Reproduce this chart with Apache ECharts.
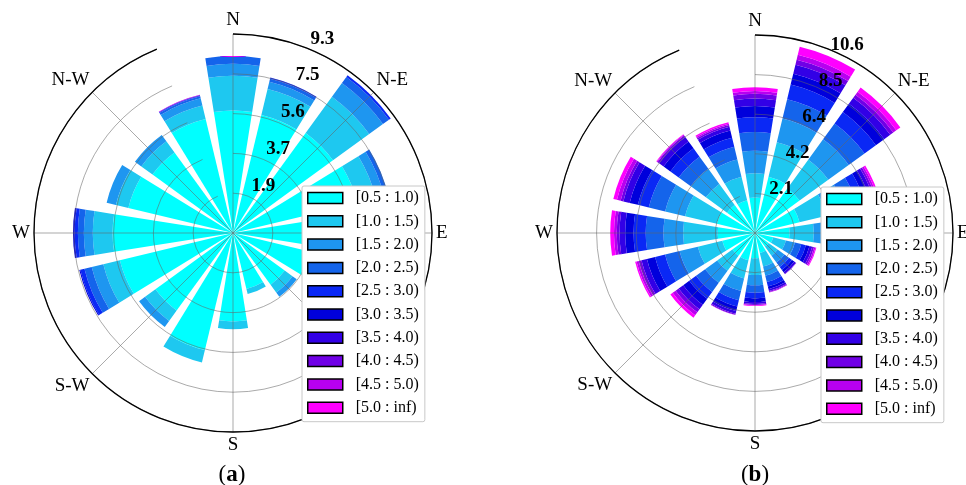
<!DOCTYPE html>
<html><head><meta charset="utf-8">
<script src="https://cdn.jsdelivr.net/npm/echarts/dist/echarts.min.js"></script>
<style>html,body{margin:0;padding:0;background:#fff}#c{width:966px;height:485px}</style>
</head><body><div id="c"></div>
<script>
// ---- categories ----
const directions = ['N','NNE','N-E','ENE','E','ESE','S-E','SSE','S','SSW','S-W','WSW','W','WNW','N-W','NNW'];
const binLabels = ['[0.5 : 1.0)','[1.0 : 1.5)','[1.5 : 2.0)','[2.0 : 2.5)','[2.5 : 3.0)','[3.0 : 3.5)','[3.5 : 4.0)','[4.0 : 4.5)','[4.5 : 5.0)','[5.0 : inf)'];
const binColors = ['#00FFFF','#1EC8F0','#1E96F0','#1464EB','#0A28F5','#0000DC','#3200E6','#7000E6','#B800F0','#FF00FF'];

// ---- radius ticks ----
const radiusMaxA = 9.34, radiusStepA = 1.868;   // labels 1.9 3.7 5.6 7.5 9.3
const radiusMaxB = 10.6, radiusStepB = 2.12;    // labels 2.1 4.2 6.4 8.5 10.6

// ---- (a) frequencies per speed bin, order N .. NNW ----
const a_05_10 = [5.75,5.70,5.80,6.00,5.00,4.20,3.00,2.70,4.15,5.65,4.50,5.46,5.65,5.05,4.67,5.50];
const a_10_15 = [1.63,1.25,2.10,0.90,0.80,0.60,0.45,0.25,0.37,0.60,0.60,0.80,0.93,0.60,0.65,0.65];
const a_15_20 = [0.56,0.35,0.80,0.40,0.40,0.20,0.25,0.00,0.00,0.00,0.35,0.56,0.42,0.45,0.37,0.35];
const a_20_25 = [0.37,0.15,0.35,0.20,0.10,0.00,0.00,0.00,0.00,0.00,0.00,0.35,0.28,0.00,0.00,0.10];
const a_25_30 = [0.00,0.05,0.10,0.00,0.00,0.00,0.00,0.00,0.00,0.00,0.00,0.20,0.15,0.00,0.00,0.03];
const a_30_35 = [0.00,0.00,0.00,0.00,0.00,0.00,0.00,0.00,0.00,0.00,0.00,0.05,0.08,0.00,0.00,0.02];
const a_35_40 = [0,0,0,0,0,0,0,0,0,0,0,0,0,0,0,0];
const a_40_45 = [0,0,0,0,0,0,0,0,0,0,0,0,0,0,0,0];
const a_45_50 = [0,0,0,0,0,0,0,0,0,0,0,0,0,0,0,0.02];
const a_50_inf = [0,0,0,0,0,0,0,0,0,0,0,0,0,0,0,0];

// ---- (b) frequencies per speed bin, order N .. NNW ----
const b_05_10 = [1.90,3.10,2.95,2.45,1.85,1.00,0.90,1.10,1.35,1.50,1.50,1.80,2.00,2.10,1.85,1.80];
const b_10_15 = [1.30,1.90,1.90,1.50,1.30,0.70,0.60,0.75,0.90,1.00,1.00,1.35,1.85,1.75,1.40,1.30];
const b_15_20 = [1.20,1.30,1.35,1.00,0.90,0.50,0.45,0.50,0.55,0.70,0.80,1.00,1.05,1.10,1.00,0.95];
const b_20_25 = [1.00,1.07,1.05,0.70,0.60,0.35,0.30,0.35,0.40,0.50,0.60,0.80,0.95,0.90,0.80,0.70];
const b_25_30 = [0.80,0.80,0.75,0.45,0.35,0.25,0.20,0.25,0.30,0.35,0.45,0.55,0.65,0.60,0.55,0.50];
const b_30_35 = [0.60,0.60,0.55,0.30,0.25,0.20,0.15,0.15,0.20,0.25,0.40,0.45,0.45,0.45,0.45,0.40];
const b_35_40 = [0.40,0.50,0.40,0.20,0.15,0.15,0.10,0.10,0.10,0.15,0.30,0.30,0.30,0.35,0.30,0.20];
const b_40_45 = [0.25,0.27,0.20,0.12,0.08,0.10,0.03,0.05,0.05,0.05,0.20,0.15,0.15,0.15,0.10,0.10];
const b_45_50 = [0.15,0.27,0.20,0.10,0.05,0.08,0.00,0.03,0.03,0.02,0.20,0.12,0.15,0.20,0.05,0.07];
const b_50_inf = [0.20,0.45,0.27,0.10,0.05,0.05,0.00,0.00,0.03,0.00,0.15,0.08,0.20,0.20,0.03,0.08];

const binsA = [a_05_10,a_10_15,a_15_20,a_20_25,a_25_30,a_30_35,a_35_40,a_40_45,a_45_50,a_50_inf];
const binsB = [b_05_10,b_10_15,b_15_20,b_20_25,b_25_30,b_30_35,b_35_40,b_40_45,b_45_50,b_50_inf];

const FONT = '"Liberation Serif","DejaVu Serif",serif';
const GRID = 'rgba(100,100,100,0.55)';

function angleMain(pi){
  return {polarIndex:pi, type:'category', data:directions, boundaryGap:false, startAngle:90, z:4,
    axisLine:{show:true, lineStyle:{color:'#000', width:1.3}},
    axisTick:{show:false, interval:1},
    axisLabel:{interval:1, margin:4, color:'#000', fontSize:19, fontFamily:FONT},
    splitLine:{show:true, interval:1, lineStyle:{color:GRID, width:1}}};
}
function angleLabel(pi, start){
  return {polarIndex:pi, type:'value', min:0, max:360, startAngle:start, show:false};
}
function radiusMain(pi, max, step){
  return {polarIndex:pi, type:'value', min:0, max:max, interval:step, z:3,
    axisLine:{show:false}, axisTick:{show:false}, axisLabel:{show:false},
    splitLine:{show:true, lineStyle:{color:GRID, width:1}}};
}
function radiusLabel(pi, max, step){
  return {polarIndex:pi, type:'value', min:0, max:max, interval:step, z:5,
    axisLine:{show:false}, axisTick:{show:false}, splitLine:{show:false},
    axisLabel:{margin:0, align:'center', verticalAlign:'middle', fontSize:19, fontWeight:'bold',
      fontFamily:FONT, color:'#000', showMinLabel:false, formatter:v=>v.toFixed(1)}};
}
function makeSeries(bins, pi, stack){
  return bins.map((vals,i)=>({type:'bar', coordinateSystem:'polar', polarIndex:pi, name:binLabels[i],
    stack:stack, data:vals, barCategoryGap:'20%', itemStyle:{color:binColors[i]},
    silent:true, emphasis:{disabled:true}}));
}
function makeLegend(left, top){
  return {left:left, top:top, orient:'vertical', data:binLabels, icon:'rect',
    itemWidth:35, itemHeight:11, itemGap:7.3, padding:[4,6,6,5],
    backgroundColor:'#fff', borderColor:'#c8c8c8', borderWidth:1, borderRadius:2, z:10,
    selectedMode:false, itemStyle:{borderColor:'#000', borderWidth:1.5},
    textStyle:{fontFamily:FONT, fontSize:16, color:'#000', lineHeight:16, padding:[0,0,0,8]}};
}
function panelLabel(x, y, letter){
  return {type:'text', x:x, y:y, z:20, style:{text:'{p|(}{b|'+letter+'}{p|)}', align:'center', verticalAlign:'middle',
    rich:{p:{fontFamily:FONT, fontSize:23, fill:'#000'}, b:{fontFamily:FONT, fontSize:23, fontWeight:'bold', fill:'#000'}}}};
}

const chart = echarts.init(document.getElementById('c'), null, {renderer:'canvas'});
chart.setOption({
  animation:false,
  backgroundColor:'#fff',
  polar:[
    {center:[233,233], radius:199},
    {center:[248.5,223.4], radius:199},
    {center:[755,233], radius:198},
    {center:[764.6,224.7], radius:198}
  ],
  angleAxis:[angleMain(0), angleLabel(1,68.2), angleMain(2), angleLabel(3,65.4)],
  radiusAxis:[radiusMain(0,radiusMaxA,radiusStepA), radiusLabel(1,radiusMaxA,radiusStepA),
              radiusMain(2,radiusMaxB,radiusStepB), radiusLabel(3,radiusMaxB,radiusStepB)],
  legend:[makeLegend(302,186), makeLegend(821,187)],
  series:[...makeSeries(binsA,0,'A'), ...makeSeries(binsB,2,'B')],
  graphic:[panelLabel(232,475,'a'), panelLabel(755,475,'b')]
});
</script></body></html>
